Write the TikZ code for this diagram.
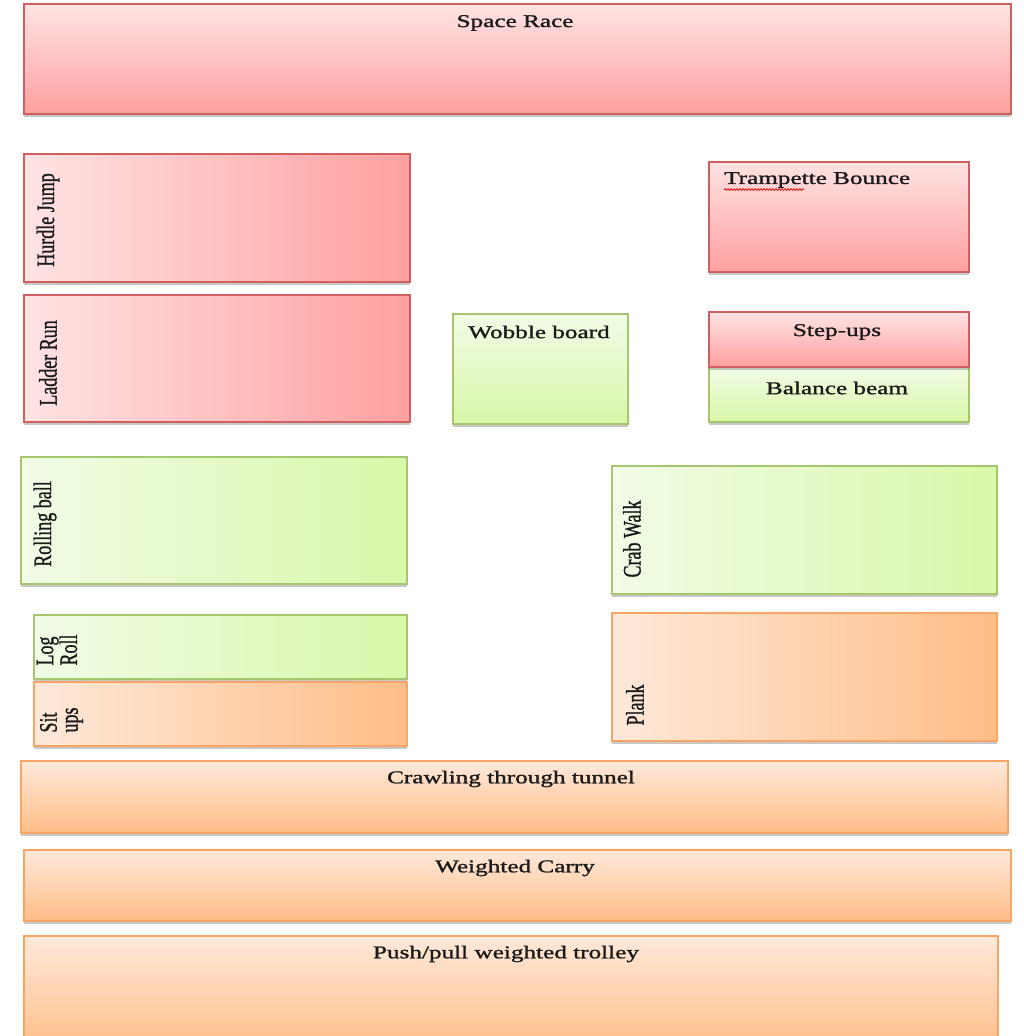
\documentclass[tikz,border=0pt]{standalone}
\usepackage{fontspec}
\setmainfont{Liberation Serif}[FakeBold=1.2]
\usetikzlibrary{shadows,decorations.pathmorphing}
\definecolor{redL}{HTML}{FFE3E3}
\definecolor{redD}{HTML}{FFA0A0}
\definecolor{redB}{HTML}{CF6060}
\definecolor{grnL}{HTML}{F1FBE6}
\definecolor{grnD}{HTML}{D9F8A9}
\definecolor{grnB}{HTML}{A5C66C}
\definecolor{orgL}{HTML}{FFE9DA}
\definecolor{orgD}{HTML}{FFBD87}
\definecolor{orgB}{HTML}{F8A566}
\definecolor{txt}{HTML}{1A1A1A}
\newcommand{\hs}[1]{\scalebox{1.4}[1]{#1}}
\newcommand{\vs}[1]{\scalebox{1}[1.4]{#1}}
\tikzset{
  box/.style={rectangle, anchor=north west, inner sep=0pt, line width=1.6pt,
    drop shadow={shadow xshift=0.5pt, shadow yshift=-3pt, opacity=0.3, fill=black!70}},
  redV/.style={box, draw=redB, top color=redL, bottom color=redD},
  redH/.style={box, draw=redB, left color=redL, right color=redD},
  grnV/.style={box, draw=grnB, top color=grnL, bottom color=grnD},
  grnH/.style={box, draw=grnB, left color=grnL, right color=grnD},
  orgV/.style={box, draw=orgB, top color=orgL, bottom color=orgD},
  orgH/.style={box, draw=orgB, left color=orgL, right color=orgD},
  lbl/.style={font=\fontsize{18}{18}\selectfont, text=txt, inner sep=0pt},
  vlbl/.style={lbl, rotate=90},
}
\begin{document}
\begin{tikzpicture}[x=1pt, y=-1pt]
\clip (0,0) rectangle (1023,1036);
\fill[white] (0,0) rectangle (1023,1036);
% boxes
\node[redV, minimum width=987pt, minimum height=110pt] (space) at (23,3) {};
\node[redH, minimum width=386pt, minimum height=128pt] (hurdle) at (23,153) {};
\node[redH, minimum width=386pt, minimum height=127pt] (ladder) at (23,294) {};
\node[redV, minimum width=260pt, minimum height=110pt] (tramp) at (708,161) {};
\node[grnV, minimum width=175pt, minimum height=110pt] (wobble) at (452,313) {};
\node[grnV, minimum width=260pt, minimum height=55pt] (balance) at (708,366) {};
\node[redV, minimum width=260pt, minimum height=55pt] (stepups) at (708,311) {};
\node[grnH, minimum width=386pt, minimum height=127pt] (rolling) at (20,456) {};
\node[grnH, minimum width=385pt, minimum height=128pt] (crab) at (611,465) {};
\node[grnH, minimum width=373pt, minimum height=64pt] (logroll) at (33,614) {};
\node[orgH, minimum width=373pt, minimum height=64pt] (situps) at (33,681) {};
\node[orgH, minimum width=385pt, minimum height=128pt] (plank) at (611,612) {};
\node[orgV, minimum width=987pt, minimum height=72pt] (crawl) at (20,760) {};
\node[orgV, minimum width=987pt, minimum height=71pt] (carry) at (23,849) {};
\node[orgV, minimum width=974pt, minimum height=115pt] (push) at (23,935) {};
% labels
\node[lbl] (tspace) at (515,23) {\hs{Space Race}};
\node[vlbl] (thurdle) at (48,220) {\vs{Hurdle Jump}};
\node[vlbl] (tladder) at (48,363) {\vs{Ladder Run}};
\node[lbl, anchor=west] (ttramp) at (724,180) {\hs{Trampette Bounce}};
\draw[red!85!black, line width=0.7pt, decorate,
  decoration={snake, amplitude=0.9pt, segment length=3pt}]
  ([yshift=-1.5pt]ttramp.south west) -- ([xshift=80pt, yshift=-1.5pt]ttramp.south west);
\node[lbl] (twobble) at (539,332) {\hs{Wobble board}};
\node[lbl] (tstep) at (837,332) {\hs{Step-ups}};
\node[lbl] (tbalance) at (837,388) {\hs{Balance beam}};
\node[vlbl] (trolling) at (45,524) {\vs{Rolling ball}};
\node[vlbl] (tcrab) at (632,539) {\vs{Crab Walk}};
\node[vlbl] (tlog) at (60,650) {\vs{\fontsize{18}{15}\selectfont\begin{tabular}{@{}l@{}}Log\\Roll\end{tabular}}};
\node[vlbl] (tsit) at (62,720) {\vs{\fontsize{18}{15}\selectfont\begin{tabular}{@{}l@{}}Sit\\ups\end{tabular}}};
\node[vlbl] (tplank) at (635,705) {\vs{Plank}};
\node[lbl] (tcrawl) at (511,779) {\hs{Crawling through tunnel}};
\node[lbl] (tcarry) at (515,868) {\hs{Weighted Carry}};
\node[lbl] (tpush) at (506,954) {\hs{Push/pull weighted trolley}};
\end{tikzpicture}
\end{document}
